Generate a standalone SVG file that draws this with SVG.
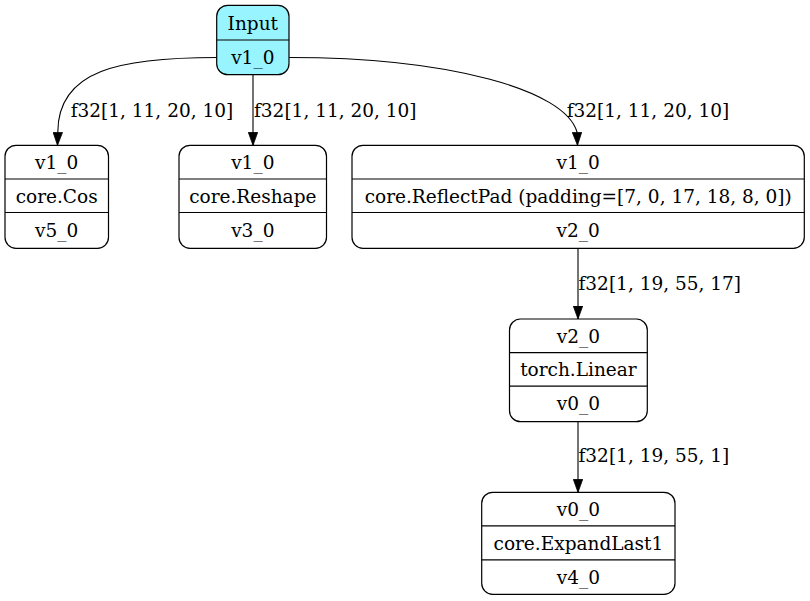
<svg xmlns="http://www.w3.org/2000/svg" width="810" height="601" viewBox="0 0 810 601">
<defs>
<style>
.box{fill:#ffffff;stroke:#000;stroke-width:1.2}
.inp{fill:#98f5ff;stroke:#000;stroke-width:1.2}
.div{stroke:#000;stroke-width:1.2}
text{font-family:"DejaVu Serif","Liberation Serif",serif;font-size:18.5px;fill:#000}
.c{text-anchor:middle}
.edge{fill:none;stroke:#000;stroke-width:1.1;marker-end:url(#arr)}
</style>
<marker id="arr" viewBox="0 0 13 10" refX="13" refY="5" markerWidth="13" markerHeight="10" markerUnits="userSpaceOnUse" orient="auto">
<path d="M0,0.3 L13,5 L0,9.7 z" fill="#000" stroke="#000" stroke-width="0.8"/>
</marker>
</defs>
<rect width="810" height="601" fill="#ffffff"/>
<g id="connectors">
<path class="edge" d="M217,57.5 C120,57.5 58,70 57.8,132 L57.5,145.3"/>
<path class="edge" d="M253,74.7 L253,145.3"/>
<path class="edge" d="M289,57.5 C450,57.5 565,90 577,132 L577.5,145.3"/>
<path class="edge" d="M578,248.3 L578,319"/>
<path class="edge" d="M578,421.7 L578,492.3"/>
<text x="70.7" y="116.7">f32[1, 11, 20, 10]</text>
<text x="254" y="116.7">f32[1, 11, 20, 10]</text>
<text x="566.7" y="116.7">f32[1, 11, 20, 10]</text>
<text x="578.5" y="290">f32[1, 19, 55, 17]</text>
<text x="578.5" y="461.7">f32[1, 19, 55, 1]</text>
</g>
<g id="input">
<rect class="inp" x="216.7" y="5.3" width="72.3" height="69.4" rx="11"/>
<line class="div" x1="216.7" y1="40" x2="289" y2="40"/>
<text class="c" x="252.8" y="30">Input</text>
<text class="c" x="252.8" y="63.5">v1_0</text>
</g>
<g id="cos">
<rect class="box" x="5" y="145.3" width="103.5" height="103" rx="11"/>
<line class="div" x1="5" y1="179" x2="108.5" y2="179"/>
<line class="div" x1="5" y1="212.5" x2="108.5" y2="212.5"/>
<text class="c" x="56.7" y="169">v1_0</text>
<text class="c" x="56.7" y="202.5">core.Cos</text>
<text class="c" x="56.7" y="236.5">v5_0</text>
</g>
<g id="reshape">
<rect class="box" x="179" y="145.3" width="147.5" height="103" rx="11"/>
<line class="div" x1="179" y1="179" x2="326.5" y2="179"/>
<line class="div" x1="179" y1="212.5" x2="326.5" y2="212.5"/>
<text class="c" x="252.8" y="169">v1_0</text>
<text class="c" x="252.8" y="202.5">core.Reshape</text>
<text class="c" x="252.8" y="236.5">v3_0</text>
</g>
<g id="reflectpad">
<rect class="box" x="352" y="145.3" width="452.3" height="103" rx="11"/>
<line class="div" x1="352" y1="179" x2="804.3" y2="179"/>
<line class="div" x1="352" y1="212.5" x2="804.3" y2="212.5"/>
<text class="c" x="578.2" y="169">v1_0</text>
<text class="c" x="578.2" y="202.5">core.ReflectPad (padding=[7, 0, 17, 18, 8, 0])</text>
<text class="c" x="578.2" y="236.5">v2_0</text>
</g>
<g id="linear">
<rect class="box" x="509.5" y="319" width="137.8" height="102.7" rx="11"/>
<line class="div" x1="509.5" y1="352.6" x2="647.3" y2="352.6"/>
<line class="div" x1="509.5" y1="386.1" x2="647.3" y2="386.1"/>
<text class="c" x="578.4" y="342.7">v2_0</text>
<text class="c" x="578.4" y="376.2">torch.Linear</text>
<text class="c" x="578.4" y="410.2">v0_0</text>
</g>
<g id="expandlast">
<rect class="box" x="481.7" y="492.3" width="193.3" height="102" rx="11"/>
<line class="div" x1="481.7" y1="525.8" x2="675" y2="525.8"/>
<line class="div" x1="481.7" y1="559.8" x2="675" y2="559.8"/>
<text class="c" x="578.4" y="516">v0_0</text>
<text class="c" x="578.4" y="549.5">core.ExpandLast1</text>
<text class="c" x="578.4" y="583.5">v4_0</text>
</g>
</svg>
